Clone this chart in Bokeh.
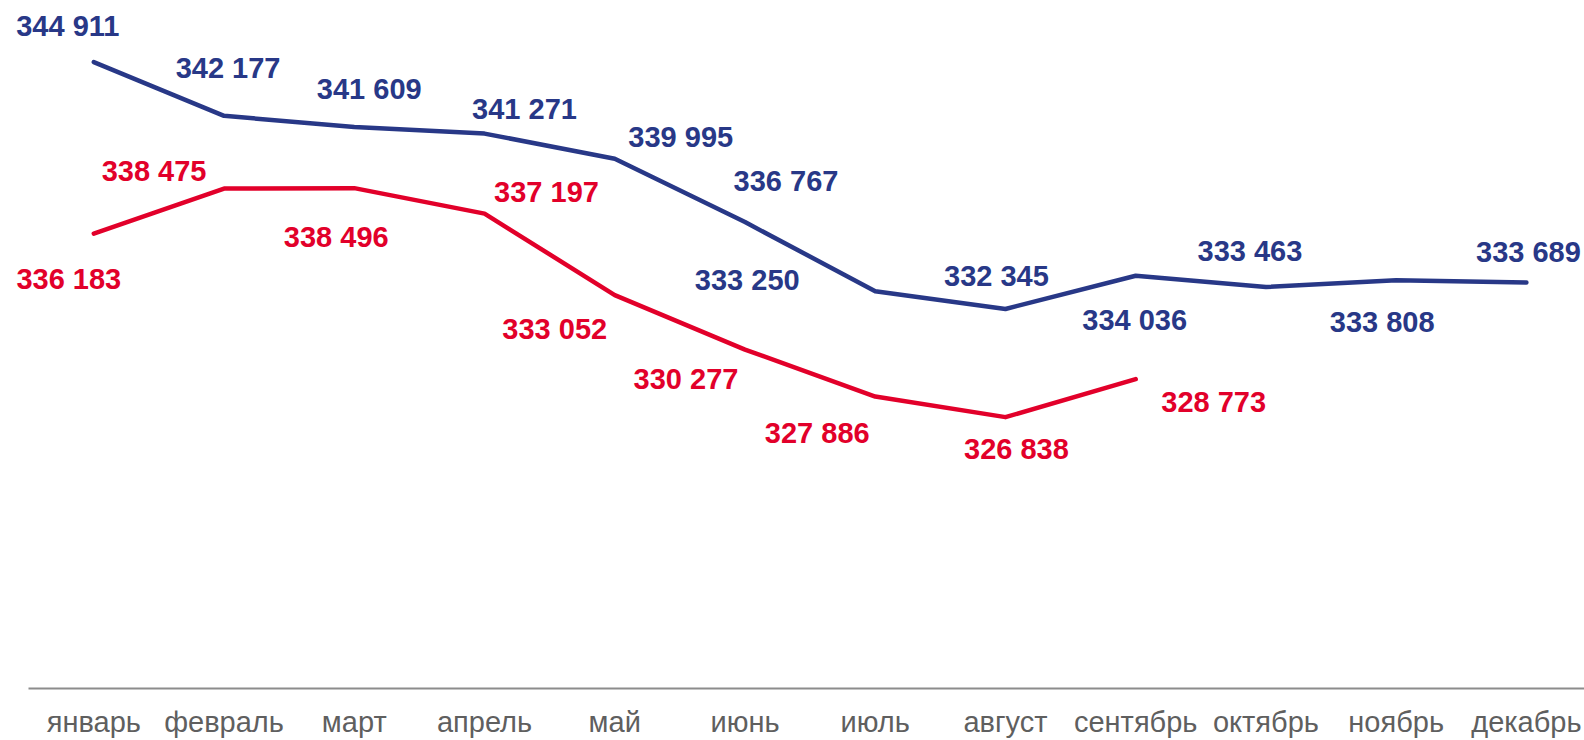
from bokeh.plotting import figure
from bokeh.models import ColumnDataSource, Range1d, LinearAxis, FixedTicker
from bokeh.core.properties import value
from bokeh.embed import file_html
from bokeh.resources import INLINE

# ---- data ----
months = ["январь", "февраль", "март", "апрель", "май", "июнь", "июль",
          "август", "сентябрь", "октябрь", "ноябрь", "декабрь"]
series_blue = [344911, 342177, 341609, 341271, 339995, 336767, 333250,
               332345, 334036, 333463, 333808, 333689]
series_red = [336183, 338475, 338496, 337197, 333052, 330277, 327886,
              326838, 328773]

# label placement offsets (screen px, relative to the point)
blue_dx = [-26, 4, 15, 40, 66, 41, -128, -9, -1, -16, -14, 2]
blue_dy = [-36, -48, -38, -25, -22, -41, -11, -33, 44, -36, 42, -31]
red_dx = [-25, -70, -18, 62, -60, -59, -58, 11, 78]
red_dy = [45, -18, 49, -22, 34, 29, 36, 32, 23]

BLUE = "#283887"
RED = "#E2002A"


def fmt(v):
    return f"{v:,}".replace(",", " ")


p = figure(width=1584, height=740,
           x_range=Range1d(-0.7164, 11.446), y_range=Range1d(313023, 348048),
           x_axis_location=None, y_axis_location=None,
           output_backend="svg", toolbar_location=None,
           min_border_left=0, min_border_right=0, min_border_top=0,
           min_border_bottom=50)
p.outline_line_color = None
p.xgrid.visible = False
p.ygrid.visible = False
p.background_fill_color = "white"
p.border_fill_color = "white"

ax = LinearAxis(ticker=FixedTicker(ticks=list(range(len(months)))),
                major_label_overrides={i: m for i, m in enumerate(months)},
                bounds=(-0.5, 12))
ax.major_tick_line_color = None
ax.minor_tick_line_color = None
ax.axis_line_color = "#8c8c8c"
ax.axis_line_width = 2
ax.major_label_text_font = "Liberation Sans"
ax.major_label_text_font_size = "29px"
ax.major_label_text_color = "#5f5f5f"
ax.major_label_standoff = 11
p.add_layout(ax, "below")

bsrc = ColumnDataSource(dict(x=list(range(len(series_blue))), y=series_blue,
                             t=[fmt(v) for v in series_blue], dx=blue_dx, dy=blue_dy))
rsrc = ColumnDataSource(dict(x=list(range(len(series_red))), y=series_red,
                             t=[fmt(v) for v in series_red], dx=red_dx, dy=red_dy))

p.line("x", "y", source=bsrc, line_color=BLUE, line_width=4.5,
       line_cap="round", line_join="round")
p.line("x", "y", source=rsrc, line_color=RED, line_width=4.5,
       line_cap="round", line_join="round")

for src, col in ((bsrc, BLUE), (rsrc, RED)):
    p.text("x", "y", text="t", source=src, x_offset="dx", y_offset="dy",
           text_font=value("Liberation Sans"), text_font_style="bold",
           text_font_size="29px", text_align="center", text_baseline="middle",
           text_color=col)

open("out.html", "w").write(file_html(p, INLINE))
